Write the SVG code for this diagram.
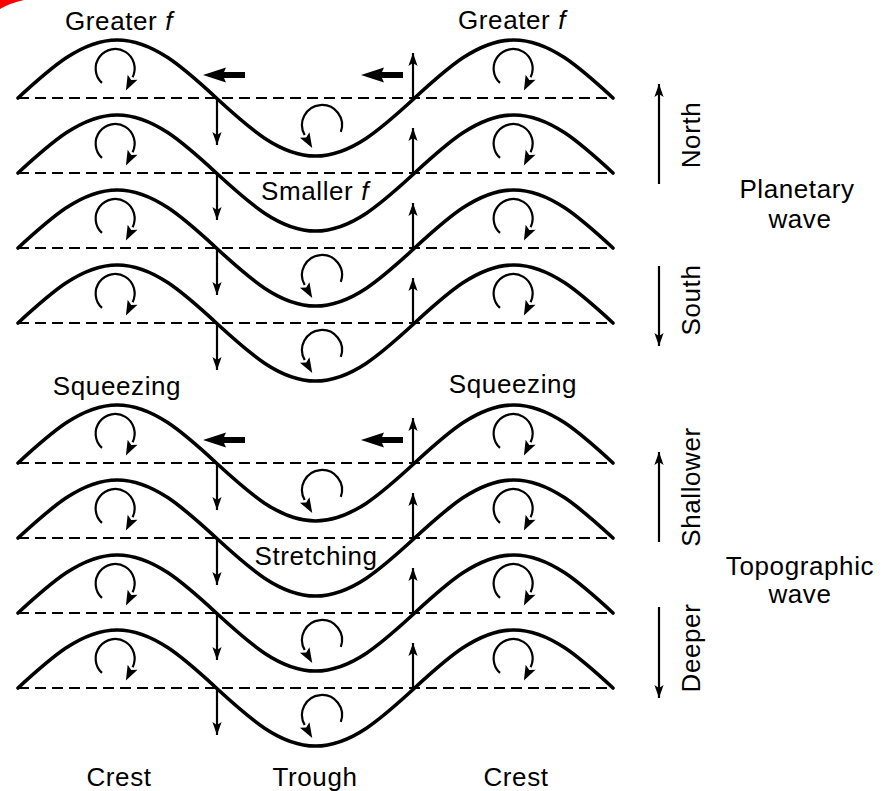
<svg xmlns="http://www.w3.org/2000/svg" xmlns:xlink="http://www.w3.org/1999/xlink" width="890" height="791" viewBox="0 0 890 791">
<style>
.wave{fill:none;stroke:#000;stroke-width:3.6;stroke-linejoin:round;stroke-linecap:round}
.base{fill:none;stroke:#000;stroke-width:2;stroke-dasharray:11 6}
.circ{fill:none;stroke:#000;stroke-width:2.2;marker-end:url(#circHead)}
.vline{fill:none;stroke:#000;stroke-width:2.2;marker-end:url(#thinHead)}
.lbl{font-family:"Liberation Sans",Arial,Helvetica,sans-serif;font-size:26px;letter-spacing:0.6px;fill:#000;text-anchor:middle}
.f{font-style:italic}
</style>
<defs>
<marker id="circHead" markerUnits="userSpaceOnUse" markerWidth="16" markerHeight="12" refX="0" refY="6" orient="auto" viewBox="0 0 16 12" overflow="visible">
<path d="M15,6 L0,0.5 L3,6 L0,11.5 Z" fill="#000"/>
</marker>
<marker id="thinHead" markerUnits="userSpaceOnUse" markerWidth="14" markerHeight="10" refX="13" refY="5" orient="auto" viewBox="0 0 14 10" overflow="visible">
<path d="M13,5 L0,0.4 L3,5 L0,9.6 Z" fill="#000"/>
</marker>
<path id="wavePath" class="wave" d="M18,0 C50.34,-29.7 81.28,-58 117.17,-58 C153.06,-58 184,-29.7 216.33,0 C248.67,29.7 279.61,58 315.5,58 C351.39,58 382.33,29.7 414.67,0 C447,-29.7 477.94,-58 513.83,-58 C549.72,-58 580.66,-29.7 613,0"/>
<line id="baseLine" class="base" x1="18" y1="0" x2="613" y2="0"/>
<path id="crestCirc" class="circ" d="M-13,13.9 A19.5,19.5 0 1 1 17.6,8.2"/>
<path id="troughCirc" class="circ" d="M18.8,6.8 A20,20 0 1 0 -17.3,10"/>
<line id="downArrow" class="vline" x1="217" y1="0" x2="217" y2="47"/>
<line id="upArrow" class="vline" x1="413" y1="0" x2="413" y2="-45"/>
<polygon id="westArrow" points="0,0 23,-7.5 21,-3 42,-3 42,3 21,3 23,7.5" fill="#000"/>
</defs>

<path d="M0,0 H24 Q10,3 0,9 Z" fill="#f00"/>

<g id="wave1" transform="translate(0,98)">
<use xlink:href="#baseLine"/><use xlink:href="#wavePath"/>
<use xlink:href="#crestCirc" transform="translate(115,-29)"/>
<use xlink:href="#crestCirc" transform="translate(513,-29)"/>
<use xlink:href="#troughCirc" transform="translate(322,27)"/>
</g>
<g id="wave2" transform="translate(0,173)">
<use xlink:href="#baseLine"/><use xlink:href="#wavePath"/>
<use xlink:href="#crestCirc" transform="translate(115,-29)"/>
<use xlink:href="#crestCirc" transform="translate(513,-29)"/>
</g>
<g id="wave3" transform="translate(0,248)">
<use xlink:href="#baseLine"/><use xlink:href="#wavePath"/>
<use xlink:href="#crestCirc" transform="translate(115,-29)"/>
<use xlink:href="#crestCirc" transform="translate(513,-29)"/>
<use xlink:href="#troughCirc" transform="translate(322,27)"/>
</g>
<g id="wave4" transform="translate(0,323)">
<use xlink:href="#baseLine"/><use xlink:href="#wavePath"/>
<use xlink:href="#crestCirc" transform="translate(115,-29)"/>
<use xlink:href="#crestCirc" transform="translate(513,-29)"/>
<use xlink:href="#troughCirc" transform="translate(322,27)"/>
</g>
<g id="wave5" transform="translate(0,463)">
<use xlink:href="#baseLine"/><use xlink:href="#wavePath"/>
<use xlink:href="#crestCirc" transform="translate(115,-29)"/>
<use xlink:href="#crestCirc" transform="translate(513,-29)"/>
<use xlink:href="#troughCirc" transform="translate(322,27)"/>
</g>
<g id="wave6" transform="translate(0,538)">
<use xlink:href="#baseLine"/><use xlink:href="#wavePath"/>
<use xlink:href="#crestCirc" transform="translate(115,-29)"/>
<use xlink:href="#crestCirc" transform="translate(513,-29)"/>
</g>
<g id="wave7" transform="translate(0,613)">
<use xlink:href="#baseLine"/><use xlink:href="#wavePath"/>
<use xlink:href="#crestCirc" transform="translate(115,-29)"/>
<use xlink:href="#crestCirc" transform="translate(513,-29)"/>
<use xlink:href="#troughCirc" transform="translate(322,27)"/>
</g>
<g id="wave8" transform="translate(0,688)">
<use xlink:href="#baseLine"/><use xlink:href="#wavePath"/>
<use xlink:href="#crestCirc" transform="translate(115,-29)"/>
<use xlink:href="#crestCirc" transform="translate(513,-29)"/>
<use xlink:href="#troughCirc" transform="translate(322,27)"/>
</g>

<g id="connectors">
<use xlink:href="#downArrow" y="98"/><use xlink:href="#upArrow" y="98"/>
<use xlink:href="#downArrow" y="173"/><use xlink:href="#upArrow" y="173"/>
<use xlink:href="#downArrow" y="248"/><use xlink:href="#upArrow" y="248"/>
<use xlink:href="#downArrow" y="323"/><use xlink:href="#upArrow" y="323"/>
<use xlink:href="#downArrow" y="463"/><use xlink:href="#upArrow" y="463"/>
<use xlink:href="#downArrow" y="538"/><use xlink:href="#upArrow" y="538"/>
<use xlink:href="#downArrow" y="613"/><use xlink:href="#upArrow" y="613"/>
<use xlink:href="#downArrow" y="688"/><use xlink:href="#upArrow" y="688"/>
<use xlink:href="#westArrow" x="203" y="75"/>
<use xlink:href="#westArrow" x="361" y="75"/>
<use xlink:href="#westArrow" x="203" y="440"/>
<use xlink:href="#westArrow" x="361" y="440"/>
<line class="vline" x1="659" y1="184" x2="659" y2="84"/>
<line class="vline" x1="659" y1="266" x2="659" y2="346"/>
<line class="vline" x1="659" y1="542" x2="659" y2="452"/>
<line class="vline" x1="659" y1="607" x2="659" y2="698"/>
</g>

<g id="labels">
<text class="lbl" x="119" y="30">Greater <tspan class="f">f</tspan></text>
<text class="lbl" x="512" y="29">Greater <tspan class="f">f</tspan></text>
<text class="lbl" x="315" y="200">Smaller <tspan class="f">f</tspan></text>
<text class="lbl" x="117" y="395">Squeezing</text>
<text class="lbl" x="513" y="393">Squeezing</text>
<text class="lbl" x="316" y="565">Stretching</text>
<text class="lbl" x="119" y="786">Crest</text>
<text class="lbl" x="315" y="786">Trough</text>
<text class="lbl" x="516" y="786">Crest</text>
<text class="lbl" transform="translate(700,135) rotate(-90)">North</text>
<text class="lbl" transform="translate(700,300) rotate(-90)">South</text>
<text class="lbl" transform="translate(700,487) rotate(-90)">Shallower</text>
<text class="lbl" transform="translate(700,648) rotate(-90)">Deeper</text>
<text class="lbl" x="797" y="198">Planetary</text>
<text class="lbl" x="800" y="228">wave</text>
<text class="lbl" x="800" y="575">Topographic</text>
<text class="lbl" x="800" y="603">wave</text>
</g>
</svg>
